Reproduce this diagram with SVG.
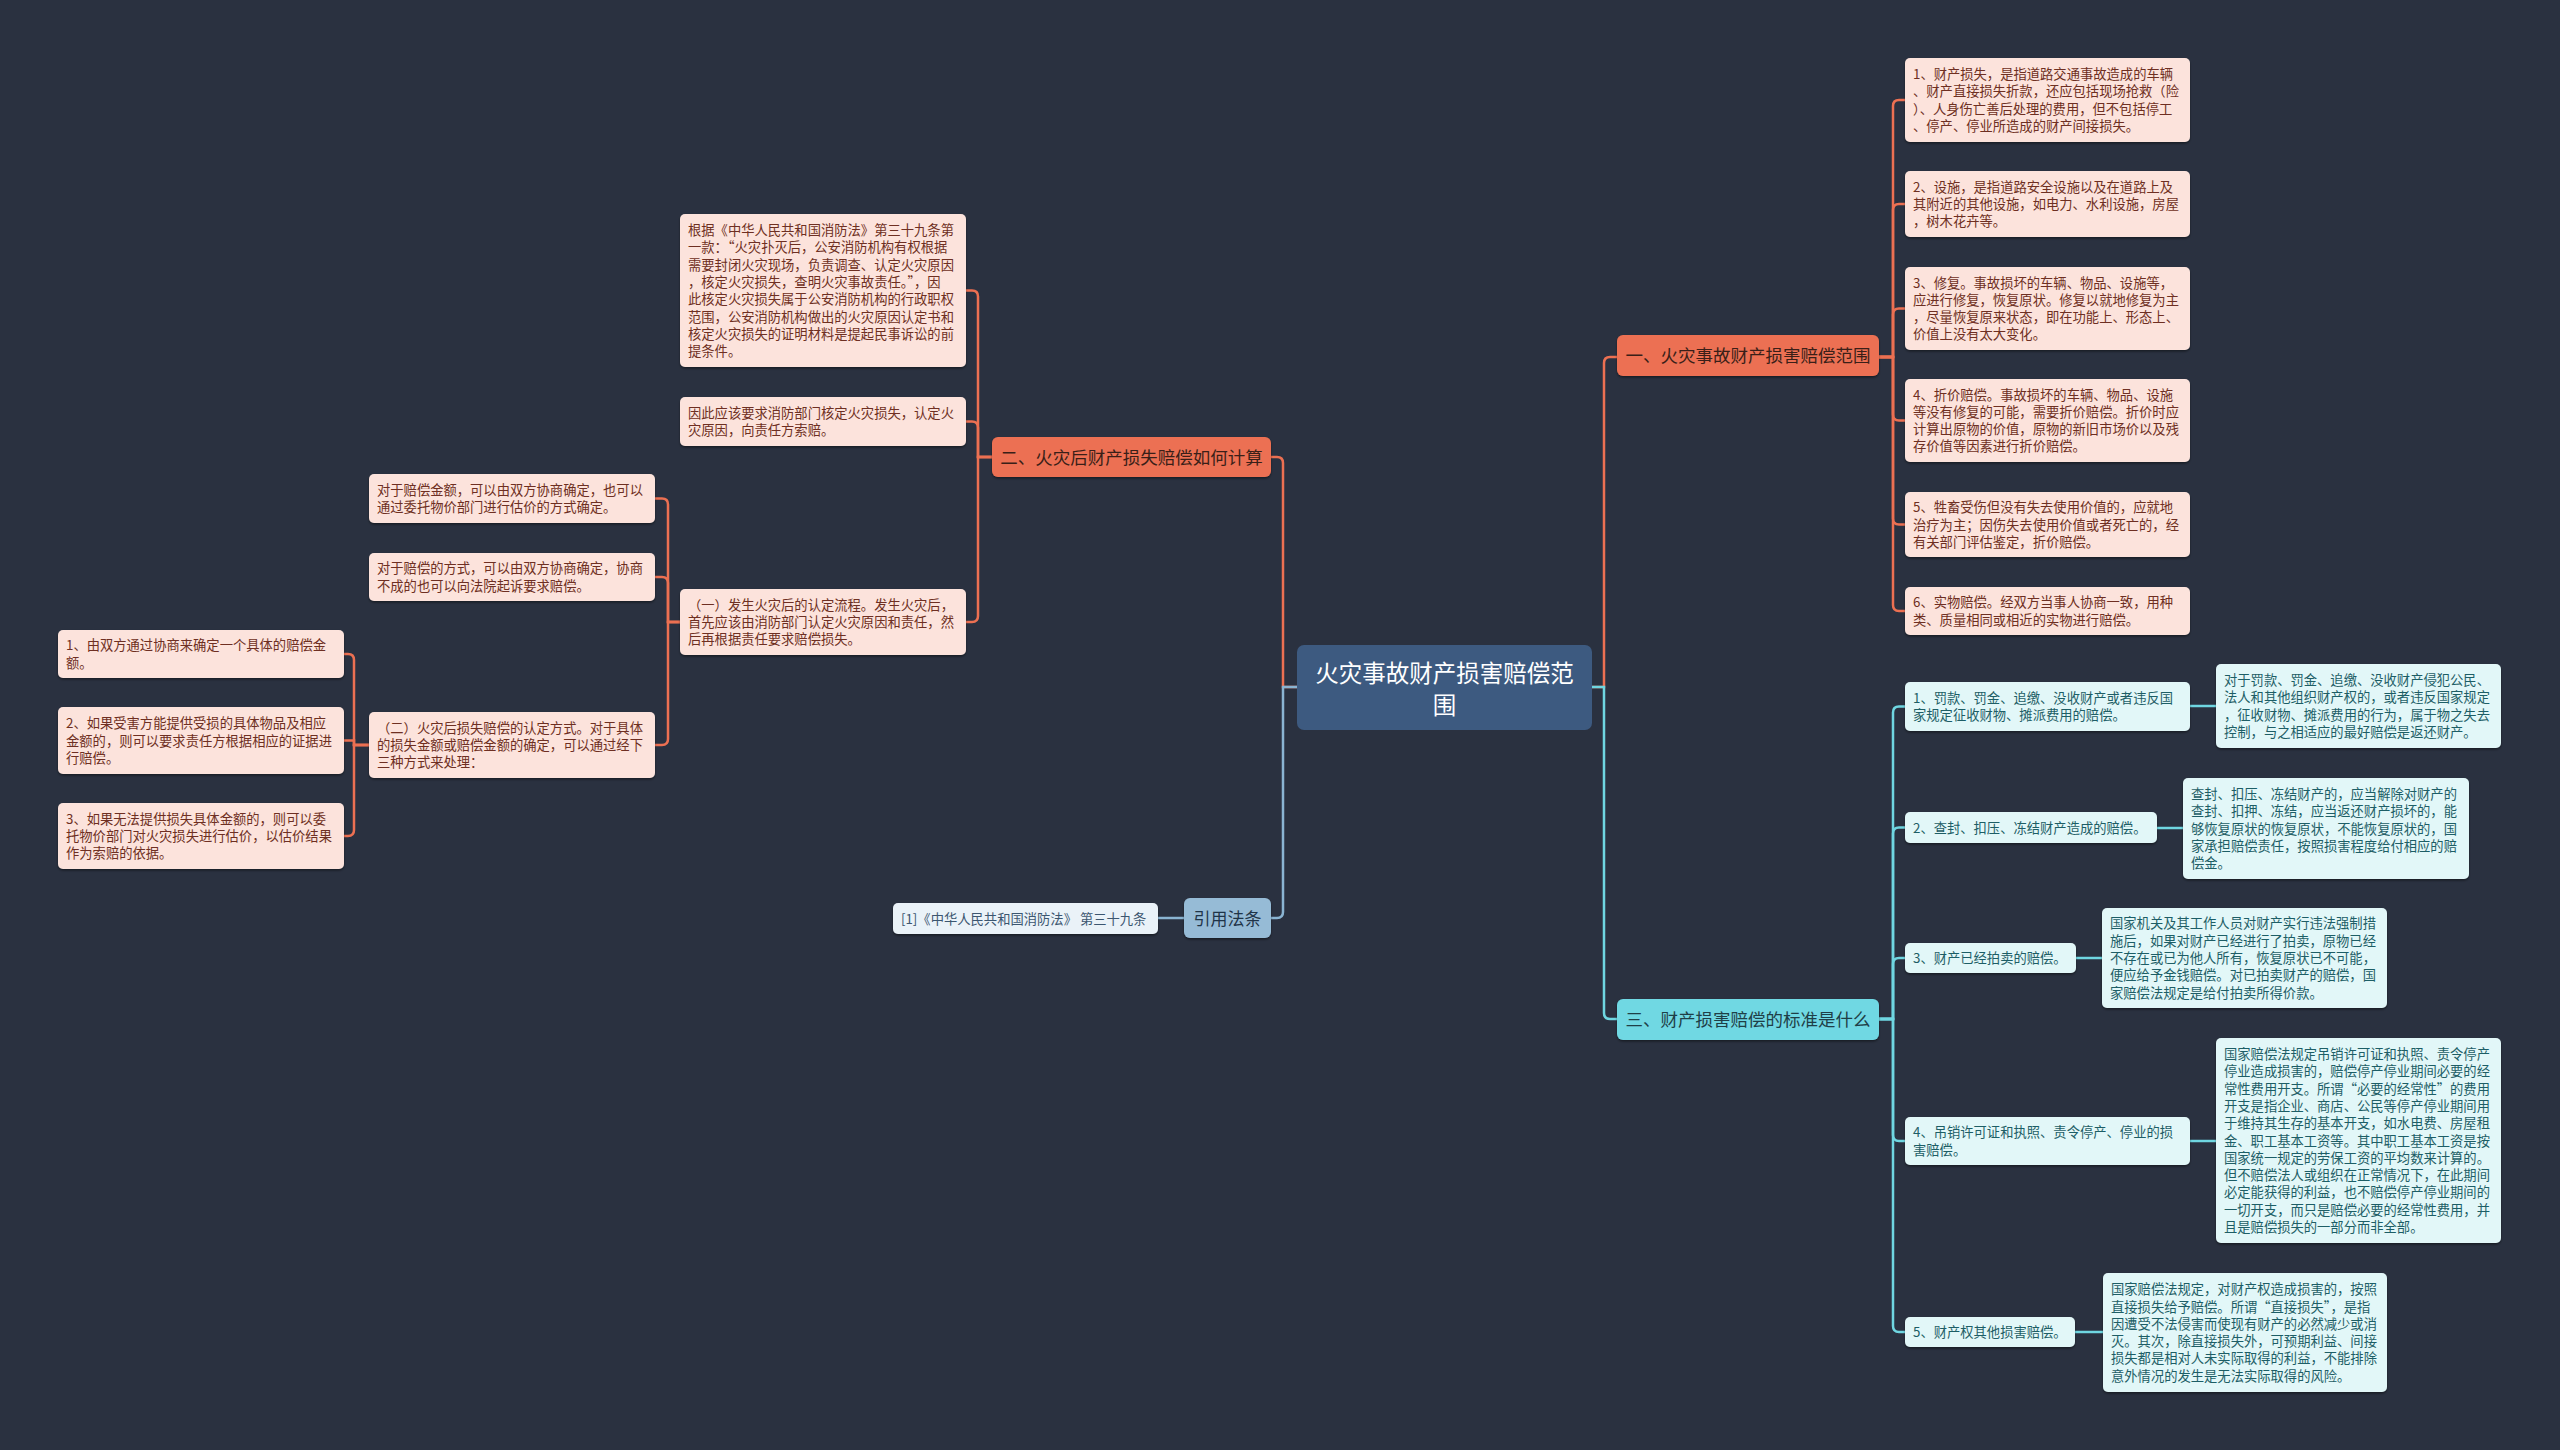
<svg xmlns="http://www.w3.org/2000/svg" width="2560" height="1450" viewBox="0 0 2560 1450">
<defs>
<filter id="sh" x="-5%" y="-10%" width="110%" height="130%"><feDropShadow dx="0" dy="1.5" stdDeviation="1.2" flood-color="#000" flood-opacity="0.45"/></filter>
<style>
text{font-family:"Noto Sans CJK SC","Noto Sans",sans-serif;}
.bg{fill:#2a3140;}
.ln{fill:none;stroke-width:2.5;}
.lo{stroke:#ec7052;}
.lc{stroke:#6fd6e1;}
.lb{stroke:#8ab4d2;}
.center rect{fill:#3d5a80;}
.center text{fill:#ffffff;font-size:23.5px;text-anchor:middle;}
.bo rect{fill:#ec7052;filter:url(#sh);}
.bo text{fill:#3a1f18;font-size:17.5px;text-anchor:middle;}
.bc rect{fill:#6fd8e3;filter:url(#sh);}
.bc text{fill:#1f3f47;font-size:17.5px;text-anchor:middle;}
.bb rect{fill:#96bbd6;filter:url(#sh);}
.bb text{fill:#1f3448;font-size:17px;text-anchor:middle;}
.po rect{fill:#fce3dc;filter:url(#sh);}
.po text{fill:#6e2f22;font-size:13.3px;}
.pc rect{fill:#e2f7f8;filter:url(#sh);}
.pc text{fill:#1d5e66;font-size:13.3px;}
.pb rect{fill:#eaf2f8;filter:url(#sh);}
.pb text{fill:#3c5670;font-size:13.3px;}
</style>
</defs>
<rect class="bg" x="0" y="0" width="2560" height="1450"/>

<g id="connectors">
<path class="ln lo" d="M1297,687 H1283 V463 Q1283,457 1277,457 H1271"/>
<path class="ln lb" d="M1297,687 H1283 V912 Q1283,918 1277,918 H1271"/>
<path class="ln lo" d="M1592,687 H1604 V363 Q1604,357 1610,357 H1617"/>
<path class="ln lc" d="M1592,687 H1604 V1013 Q1604,1019 1610,1019 H1617"/>
<path class="ln lb" d="M1184,918 H1158"/>
<!-- branch 1 children -->
<path class="ln lo" d="M1879,357 H1893 V106 Q1893,100 1899,100 H1905"/>
<path class="ln lo" d="M1879,357 H1893 V210 Q1893,204 1899,204 H1905"/>
<path class="ln lo" d="M1879,357 H1893 V314.5 Q1893,308.5 1899,308.5 H1905"/>
<path class="ln lo" d="M1879,357 H1893 V414.5 Q1893,420.5 1899,420.5 H1905"/>
<path class="ln lo" d="M1879,357 H1893 V518.5 Q1893,524.5 1899,524.5 H1905"/>
<path class="ln lo" d="M1879,357 H1893 V605 Q1893,611 1899,611 H1905"/>
<!-- branch 3 children -->
<path class="ln lc" d="M1879,1019 H1893 V712.5 Q1893,706.5 1899,706.5 H1905"/>
<path class="ln lc" d="M1879,1019 H1893 V833.5 Q1893,827.5 1899,827.5 H1905"/>
<path class="ln lc" d="M1879,1019 H1893 V964 Q1893,958 1899,958 H1905"/>
<path class="ln lc" d="M1879,1019 H1893 V1135 Q1893,1141 1899,1141 H1905"/>
<path class="ln lc" d="M1879,1019 H1893 V1326 Q1893,1332 1899,1332 H1905"/>
<path class="ln lc" d="M2190,706 H2216"/>
<path class="ln lc" d="M2157,828 H2183"/>
<path class="ln lc" d="M2076,958 H2102"/>
<path class="ln lc" d="M2190,1141 H2216"/>
<path class="ln lc" d="M2075,1332 H2103"/>
<!-- branch 2 children -->
<path class="ln lo" d="M992,457 H978 V296.5 Q978,290.5 972,290.5 H966"/>
<path class="ln lo" d="M992,457 H978 V427.5 Q978,421.5 972,421.5 H966"/>
<path class="ln lo" d="M992,457 H978 V616 Q978,622 972,622 H966"/>
<!-- (一) children -->
<path class="ln lo" d="M680,622 H668 V504.5 Q668,498.5 662,498.5 H655"/>
<path class="ln lo" d="M680,622 H668 V583 Q668,577 662,577 H655"/>
<path class="ln lo" d="M680,622 H668 V739 Q668,745 662,745 H655"/>
<!-- (二) children -->
<path class="ln lo" d="M369,745 H354 V660 Q354,654 348,654 H344"/>
<path class="ln lo" d="M369,745 H354 V740.5 H344"/>
<path class="ln lo" d="M369,745 H354 V830 Q354,836 348,836 H344"/>
</g>

<g id="center" class="center">
<rect x="1297" y="645" width="295" height="85" rx="7"/>
<text x="1444.5" y="682">火灾事故财产损害赔偿范</text>
<text x="1444.5" y="714">围</text>
</g>

<g id="b1" class="bo"><rect x="1617" y="335" width="262" height="41" rx="6"/><text x="1748" y="362">一、火灾事故财产损害赔偿范围</text></g>
<g id="b3" class="bc"><rect x="1617" y="999" width="262" height="41" rx="6"/><text x="1748" y="1026">三、财产损害赔偿的标准是什么</text></g>
<g id="b2" class="bo"><rect x="992" y="437" width="279" height="40" rx="6"/><text x="1131.5" y="463.6">二、火灾后财产损失赔偿如何计算</text></g>
<g id="bref" class="bb"><rect x="1184" y="898" width="87" height="40" rx="6"/><text x="1227.5" y="924.5">引用法条</text></g>

<g id="ref1" class="pb"><rect x="893" y="903" width="265" height="31" rx="5"/><text x="901" y="923.5">[1]《中华人民共和国消防法》 第三十九条</text></g>

<g id="b1c1" class="po"><rect x="1905" y="58" width="285" height="84" rx="5"/><text x="1913" y="79"><tspan x="1913">1、财产损失，是指道路交通事故造成的车辆</tspan><tspan x="1913" dy="17.3">、财产直接损失折款，还应包括现场抢救（险</tspan><tspan x="1913" dy="17.3">）、人身伤亡善后处理的费用，但不包括停工</tspan><tspan x="1913" dy="17.3">、停产、停业所造成的财产间接损失。</tspan></text></g>
<g id="b1c2" class="po"><rect x="1905" y="171" width="285" height="66" rx="5"/><text x="1913" y="191.7"><tspan x="1913">2、设施，是指道路安全设施以及在道路上及</tspan><tspan x="1913" dy="17.3">其附近的其他设施，如电力、水利设施，房屋</tspan><tspan x="1913" dy="17.3">，树木花卉等。</tspan></text></g>
<g id="b1c3" class="po"><rect x="1905" y="267" width="285" height="83" rx="5"/><text x="1913" y="287.5"><tspan x="1913">3、修复。事故损坏的车辆、物品、设施等，</tspan><tspan x="1913" dy="17.3">应进行修复，恢复原状。修复以就地修复为主</tspan><tspan x="1913" dy="17.3">，尽量恢复原来状态，即在功能上、形态上、</tspan><tspan x="1913" dy="17.3">价值上没有太大变化。</tspan></text></g>
<g id="b1c4" class="po"><rect x="1905" y="379" width="285" height="83" rx="5"/><text x="1913" y="399.5"><tspan x="1913">4、折价赔偿。事故损坏的车辆、物品、设施</tspan><tspan x="1913" dy="17.3">等没有修复的可能，需要折价赔偿。折价时应</tspan><tspan x="1913" dy="17.3">计算出原物的价值，原物的新旧市场价以及残</tspan><tspan x="1913" dy="17.3">存价值等因素进行折价赔偿。</tspan></text></g>
<g id="b1c5" class="po"><rect x="1905" y="492" width="285" height="65" rx="5"/><text x="1913" y="512.2"><tspan x="1913">5、牲畜受伤但没有失去使用价值的，应就地</tspan><tspan x="1913" dy="17.3">治疗为主；因伤失去使用价值或者死亡的，经</tspan><tspan x="1913" dy="17.3">有关部门评估鉴定，折价赔偿。</tspan></text></g>
<g id="b1c6" class="po"><rect x="1905" y="587" width="285" height="48" rx="5"/><text x="1913" y="607.3"><tspan x="1913">6、实物赔偿。经双方当事人协商一致，用种</tspan><tspan x="1913" dy="17.3">类、质量相同或相近的实物进行赔偿。</tspan></text></g>

<g id="b3c1" class="pc"><rect x="1905" y="682" width="285" height="49" rx="5"/><text x="1913" y="702.8"><tspan x="1913">1、罚款、罚金、追缴、没收财产或者违反国</tspan><tspan x="1913" dy="17.3">家规定征收财物、摊派费用的赔偿。</tspan></text></g>
<g id="b3c2" class="pc"><rect x="1905" y="812" width="252" height="31" rx="5"/><text x="1913" y="832.5">2、查封、扣压、冻结财产造成的赔偿。</text></g>
<g id="b3c3" class="pc"><rect x="1905" y="943" width="171" height="30" rx="5"/><text x="1913" y="963">3、财产已经拍卖的赔偿。</text></g>
<g id="b3c4" class="pc"><rect x="1905" y="1117" width="285" height="48" rx="5"/><text x="1913" y="1137.3"><tspan x="1913">4、吊销许可证和执照、责令停产、停业的损</tspan><tspan x="1913" dy="17.3">害赔偿。</tspan></text></g>
<g id="b3c5" class="pc"><rect x="1905" y="1317" width="170" height="30" rx="5"/><text x="1913" y="1337">5、财产权其他损害赔偿。</text></g>

<g id="b3d1" class="pc"><rect x="2216" y="664" width="285" height="84" rx="5"/><text x="2224" y="685"><tspan x="2224">对于罚款、罚金、追缴、没收财产侵犯公民、</tspan><tspan x="2224" dy="17.3">法人和其他组织财产权的，或者违反国家规定</tspan><tspan x="2224" dy="17.3">，征收财物、摊派费用的行为，属于物之失去</tspan><tspan x="2224" dy="17.3">控制，与之相适应的最好赔偿是返还财产。</tspan></text></g>
<g id="b3d2" class="pc"><rect x="2183" y="778" width="286" height="101" rx="5"/><text x="2191" y="798.9"><tspan x="2191">查封、扣压、冻结财产的，应当解除对财产的</tspan><tspan x="2191" dy="17.3">查封、扣押、冻结，应当返还财产损坏的，能</tspan><tspan x="2191" dy="17.3">够恢复原状的恢复原状，不能恢复原状的，国</tspan><tspan x="2191" dy="17.3">家承担赔偿责任，按照损害程度给付相应的赔</tspan><tspan x="2191" dy="17.3">偿金。</tspan></text></g>
<g id="b3d3" class="pc"><rect x="2102" y="908" width="285" height="100" rx="5"/><text x="2110" y="928.4"><tspan x="2110">国家机关及其工作人员对财产实行违法强制措</tspan><tspan x="2110" dy="17.3">施后，如果对财产已经进行了拍卖，原物已经</tspan><tspan x="2110" dy="17.3">不存在或已为他人所有，恢复原状已不可能，</tspan><tspan x="2110" dy="17.3">便应给予金钱赔偿。对已拍卖财产的赔偿，国</tspan><tspan x="2110" dy="17.3">家赔偿法规定是给付拍卖所得价款。</tspan></text></g>
<g id="b3d4" class="pc"><rect x="2216" y="1038" width="285" height="205" rx="5"/><text x="2224" y="1059"><tspan x="2224">国家赔偿法规定吊销许可证和执照、责令停产</tspan><tspan x="2224" dy="17.3">停业造成损害的，赔偿停产停业期间必要的经</tspan><tspan x="2224" dy="17.3">常性费用开支。所谓“必要的经常性”的费用</tspan><tspan x="2224" dy="17.3">开支是指企业、商店、公民等停产停业期间用</tspan><tspan x="2224" dy="17.3">于维持其生存的基本开支，如水电费、房屋租</tspan><tspan x="2224" dy="17.3">金、职工基本工资等。其中职工基本工资是按</tspan><tspan x="2224" dy="17.3">国家统一规定的劳保工资的平均数来计算的。</tspan><tspan x="2224" dy="17.3">但不赔偿法人或组织在正常情况下，在此期间</tspan><tspan x="2224" dy="17.3">必定能获得的利益，也不赔偿停产停业期间的</tspan><tspan x="2224" dy="17.3">一切开支，而只是赔偿必要的经常性费用，并</tspan><tspan x="2224" dy="17.3">且是赔偿损失的一部分而非全部。</tspan></text></g>
<g id="b3d5" class="pc"><rect x="2103" y="1273" width="284" height="119" rx="5"/><text x="2111" y="1294.2"><tspan x="2111">国家赔偿法规定，对财产权造成损害的，按照</tspan><tspan x="2111" dy="17.3">直接损失给予赔偿。所谓“直接损失”，是指</tspan><tspan x="2111" dy="17.3">因遭受不法侵害而使现有财产的必然减少或消</tspan><tspan x="2111" dy="17.3">灭。其次，除直接损失外，可预期利益、间接</tspan><tspan x="2111" dy="17.3">损失都是相对人未实际取得的利益，不能排除</tspan><tspan x="2111" dy="17.3">意外情况的发生是无法实际取得的风险。</tspan></text></g>

<g id="b2d1" class="po"><rect x="680" y="214" width="286" height="153" rx="5"/><text x="688" y="235"><tspan x="688">根据《中华人民共和国消防法》第三十九条第</tspan><tspan x="688" dy="17.3">一款：“火灾扑灭后，公安消防机构有权根据</tspan><tspan x="688" dy="17.3">需要封闭火灾现场，负责调查、认定火灾原因</tspan><tspan x="688" dy="17.3">，核定火灾损失，查明火灾事故责任。”，因</tspan><tspan x="688" dy="17.3">此核定火灾损失属于公安消防机构的行政职权</tspan><tspan x="688" dy="17.3">范围，公安消防机构做出的火灾原因认定书和</tspan><tspan x="688" dy="17.3">核定火灾损失的证明材料是提起民事诉讼的前</tspan><tspan x="688" dy="17.3">提条件。</tspan></text></g>
<g id="b2d2" class="po"><rect x="680" y="397" width="286" height="49" rx="5"/><text x="688" y="417.8"><tspan x="688">因此应该要求消防部门核定火灾损失，认定火</tspan><tspan x="688" dy="17.3">灾原因，向责任方索赔。</tspan></text></g>
<g id="b2d3" class="po"><rect x="680" y="589" width="286" height="66" rx="5"/><text x="688" y="609.7"><tspan x="688">（一）发生火灾后的认定流程。发生火灾后，</tspan><tspan x="688" dy="17.3">首先应该由消防部门认定火灾原因和责任，然</tspan><tspan x="688" dy="17.3">后再根据责任要求赔偿损失。</tspan></text></g>

<g id="s1" class="po"><rect x="369" y="474" width="286" height="49" rx="5"/><text x="377" y="494.8"><tspan x="377">对于赔偿金额，可以由双方协商确定，也可以</tspan><tspan x="377" dy="17.3">通过委托物价部门进行估价的方式确定。</tspan></text></g>
<g id="s2" class="po"><rect x="369" y="553" width="286" height="48" rx="5"/><text x="377" y="573.3"><tspan x="377">对于赔偿的方式，可以由双方协商确定，协商</tspan><tspan x="377" dy="17.3">不成的也可以向法院起诉要求赔偿。</tspan></text></g>
<g id="s3" class="po"><rect x="369" y="712" width="286" height="66" rx="5"/><text x="377" y="732.7"><tspan x="377">（二）火灾后损失赔偿的认定方式。对于具体</tspan><tspan x="377" dy="17.3">的损失金额或赔偿金额的确定，可以通过经下</tspan><tspan x="377" dy="17.3">三种方式来处理：</tspan></text></g>

<g id="f1" class="po"><rect x="58" y="630" width="286" height="48" rx="5"/><text x="66" y="650.3"><tspan x="66">1、由双方通过协商来确定一个具体的赔偿金</tspan><tspan x="66" dy="17.3">额。</tspan></text></g>
<g id="f2" class="po"><rect x="58" y="707" width="286" height="67" rx="5"/><text x="66" y="728.2"><tspan x="66">2、如果受害方能提供受损的具体物品及相应</tspan><tspan x="66" dy="17.3">金额的，则可以要求责任方根据相应的证据进</tspan><tspan x="66" dy="17.3">行赔偿。</tspan></text></g>
<g id="f3" class="po"><rect x="58" y="803" width="286" height="66" rx="5"/><text x="66" y="823.7"><tspan x="66">3、如果无法提供损失具体金额的，则可以委</tspan><tspan x="66" dy="17.3">托物价部门对火灾损失进行估价，以估价结果</tspan><tspan x="66" dy="17.3">作为索赔的依据。</tspan></text></g>
</svg>
